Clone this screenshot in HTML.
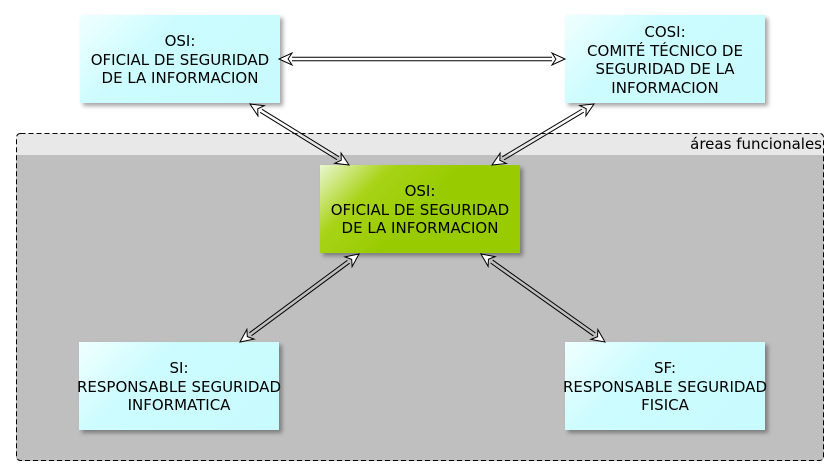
<!DOCTYPE html>
<html><head><meta charset="utf-8"><style>
html,body{margin:0;padding:0;background:#fff;width:839px;height:475px;overflow:hidden;font-family:"DejaVu Sans","Liberation Sans",sans-serif;}
.c{position:absolute;left:16px;top:133px;width:808px;height:328px;border-radius:4px;background:#bfbfbf;overflow:hidden}
.c .h{position:absolute;left:0;top:0;right:0;height:22px;background:#e8e8e8;text-align:right;font-size:15px;line-height:22px;padding-right:2px;color:#000}
.b{position:absolute;width:200px;height:88px;display:flex;align-items:center;justify-content:center;text-align:center;font-size:15px;line-height:18.5px;padding-top:2px;box-sizing:border-box;color:#000;box-shadow:3px 3px 4px rgba(0,0,0,.35);background:linear-gradient(135deg,#f0ffff 0%,#ccfcff 35%,#c8fbfe 100%);white-space:pre}
.g{background:linear-gradient(135deg,#eaf7d0 0%,#a8d318 25%,#99cc00 50%,#99cc00 100%)}
svg{position:absolute;left:0;top:0}
</style></head><body>
<div class="c"><div class="h">áreas funcionales</div></div>
<div class="b" style="left:80px;top:15px">OSI:
OFICIAL DE SEGURIDAD
DE LA INFORMACION</div>
<div class="b" style="left:565px;top:15px">COSI:
COMITÉ TÉCNICO DE
SEGURIDAD DE LA
INFORMACION</div>
<div class="b g" style="left:320px;top:165px">OSI:
OFICIAL DE SEGURIDAD
DE LA INFORMACION</div>
<div class="b" style="left:79px;top:342px">SI:
RESPONSABLE SEGURIDAD
INFORMATICA</div>
<div class="b" style="left:565px;top:342px">SF:
RESPONSABLE SEGURIDAD
FISICA</div>
<svg id="s" width="839" height="475"></svg>
<script>
var s=document.getElementById('s'),out='<rect x="16.5" y="133.5" width="807" height="327" rx="4" fill="none" stroke="#000" stroke-width="1" stroke-dasharray="5,3"/>';
function arr(x1,y1,x2,y2){
 var dx=x2-x1,dy=y2-y1,L=Math.hypot(dx,dy),ux=dx/L,uy=dy/L,nx=-uy,ny=ux,h=13,w=6,o=1.8;
 var a1=[x1+ux*h,y1+uy*h],a2=[x2-ux*h,y2-uy*h];
 for(var k of [-o,o]){out+='<line x1="'+(a1[0]+nx*k)+'" y1="'+(a1[1]+ny*k)+'" x2="'+(a2[0]+nx*k)+'" y2="'+(a2[1]+ny*k)+'" stroke="#000" stroke-width="1"/>';}
 function head(px,py,sx,sy){var bx=px+sx*h,by=py+sy*h,mx=px+sx*h*0.7,my=py+sy*h*0.7;
  out+='<polygon points="'+px+','+py+' '+(bx+nx*w)+','+(by+ny*w)+' '+mx+','+my+' '+(bx-nx*w)+','+(by-ny*w)+'" fill="#fff" stroke="#000" stroke-width="1"/>';}
 head(x1,y1,ux,uy);head(x2,y2,-ux,-uy);
}
arr(279,59,565,59);
arr(250,104,349,165);
arr(594,104,492,165);
arr(359,254,240,342);
arr(481,254,605,342);
s.innerHTML=out;
</script>
</body></html>
